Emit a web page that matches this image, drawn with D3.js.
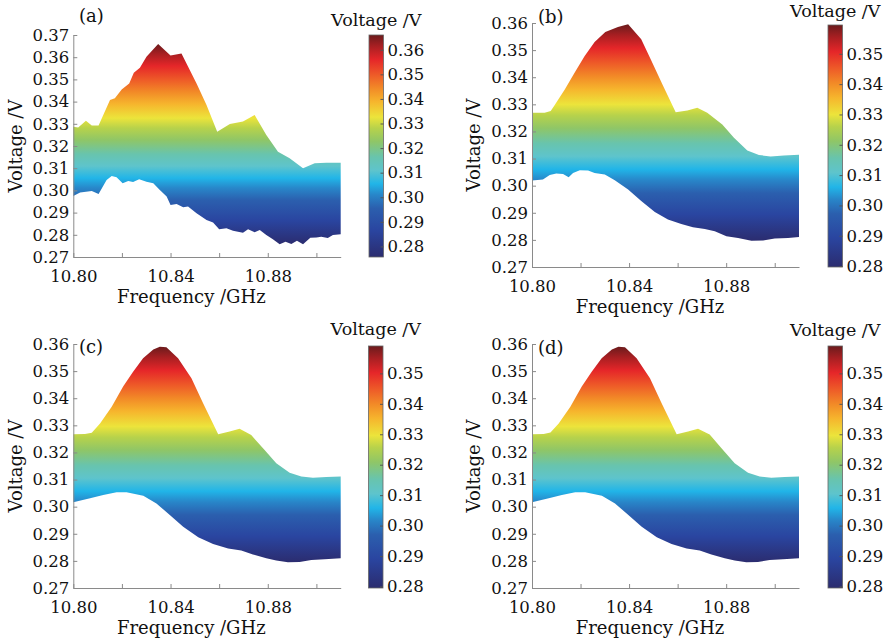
<!DOCTYPE html>
<html lang="en">
<head>
  <meta charset="UTF-8">
  <title>Voltage vs frequency</title>
  <style>
    body { margin: 0; background: #fff; }
    text { font-family: "DejaVu Serif", serif; fill: #111; }
  </style>
</head>
<body>
  <svg id="svg" width="887" height="643"></svg>
  <script src="https://d3js.org/d3.v7.min.js"></script>
  <script>
    // x axis (shared)
    const freqDomain = [10.80, 10.91]
    const freqTicks = [10.80, 10.82, 10.84, 10.86, 10.88, 10.90]
    const freqLabels = ['10.80', '10.84', '10.88']

    // y ticks
    const voltTicksA = [0.27, 0.28, 0.29, 0.30, 0.31, 0.32, 0.33, 0.34, 0.35, 0.36, 0.37]
    const voltTicksBCD = [0.27, 0.28, 0.29, 0.30, 0.31, 0.32, 0.33, 0.34, 0.35, 0.36]
    const barTicksA = [0.28, 0.29, 0.30, 0.31, 0.32, 0.33, 0.34, 0.35, 0.36]
    const barTicksBCD = [0.28, 0.29, 0.30, 0.31, 0.32, 0.33, 0.34, 0.35]

    // (a) raw measurement: [frequency GHz, voltage V]
    const aUpper = [
      [10.800, 0.3287], [10.802, 0.3283], [10.8052, 0.3314], [10.8076, 0.3292], [10.8104, 0.3292],
      [10.8151, 0.3407], [10.8171, 0.3415], [10.8199, 0.3455], [10.823, 0.3482], [10.8249, 0.3530],
      [10.8274, 0.3553], [10.8301, 0.3602], [10.8349, 0.3660], [10.840, 0.3608], [10.8445, 0.3617],
      [10.8507, 0.3482], [10.8548, 0.3385], [10.8592, 0.3264], [10.8644, 0.3299], [10.8698, 0.3310],
      [10.8746, 0.3340], [10.8794, 0.3250], [10.8842, 0.3174], [10.889, 0.3145], [10.8945, 0.3100],
      [10.8993, 0.3122], [10.9041, 0.3124], [10.910, 0.3124]
    ]
    const aLower = [
      [10.800, 0.2975], [10.8028, 0.2990], [10.8052, 0.2994], [10.8076, 0.2997], [10.8104, 0.2984],
      [10.8137, 0.3047], [10.8158, 0.3065], [10.8178, 0.3059], [10.8203, 0.3032], [10.8226, 0.3042],
      [10.8246, 0.3038], [10.8271, 0.3050], [10.8301, 0.3039], [10.8329, 0.3032], [10.8356, 0.3002],
      [10.8384, 0.2972], [10.840, 0.2934], [10.8425, 0.2939], [10.8452, 0.2924], [10.8472, 0.2927],
      [10.8507, 0.2897], [10.8548, 0.2867], [10.8575, 0.2855], [10.860, 0.2825], [10.863, 0.2829],
      [10.8657, 0.2818], [10.8698, 0.2809], [10.8719, 0.2825], [10.8746, 0.2811], [10.8767, 0.2822],
      [10.8794, 0.2799], [10.8821, 0.2780], [10.8849, 0.2757], [10.8873, 0.2769], [10.8897, 0.2759],
      [10.892, 0.2773], [10.8945, 0.2757], [10.8975, 0.2787], [10.900, 0.2788], [10.902, 0.2791],
      [10.9047, 0.2786], [10.9068, 0.2799], [10.910, 0.2802]
    ]

    // (b)
    const bUpper = [
      [10.800, 0.3269], [10.8052, 0.3269], [10.8077, 0.3275], [10.8093, 0.3297], [10.8135, 0.3355],
      [10.8176, 0.3417], [10.8217, 0.3478], [10.8258, 0.3530], [10.8302, 0.3567], [10.8354, 0.3585],
      [10.8396, 0.3595], [10.845, 0.3540], [10.8489, 0.3466], [10.8537, 0.3374], [10.8592, 0.3271],
      [10.864, 0.3277], [10.8681, 0.3287], [10.8722, 0.3269], [10.8784, 0.3226], [10.8832, 0.3177],
      [10.8887, 0.3130], [10.8935, 0.3113], [10.8983, 0.3108], [10.9038, 0.3111], [10.910, 0.3114]
    ]
    const bLower = [
      [10.800, 0.3019], [10.8045, 0.3023], [10.8073, 0.3039], [10.810, 0.3045], [10.8128, 0.3043],
      [10.8151, 0.3031], [10.8169, 0.3047], [10.8197, 0.3057], [10.8231, 0.3056], [10.8258, 0.3047],
      [10.830, 0.3041], [10.8341, 0.3020], [10.8396, 0.2986], [10.845, 0.2943], [10.8506, 0.2903],
      [10.856, 0.2875], [10.8615, 0.2859], [10.8663, 0.2847], [10.8712, 0.2840], [10.8753, 0.2832],
      [10.8801, 0.2813], [10.8849, 0.2807], [10.8904, 0.2797], [10.8952, 0.2798], [10.900, 0.2805],
      [10.9055, 0.2807], [10.910, 0.2811]
    ]

    // (c)
    const cUpper = [
      [10.800, 0.3267], [10.8048, 0.3268], [10.8076, 0.3273], [10.811, 0.3307], [10.8158, 0.3369],
      [10.8205, 0.3443], [10.8246, 0.3498], [10.8287, 0.3547], [10.8329, 0.3580], [10.8356, 0.3590],
      [10.8383, 0.3588], [10.8431, 0.3547], [10.8486, 0.3474], [10.8534, 0.3381], [10.8596, 0.3267],
      [10.8643, 0.3277], [10.8684, 0.3287], [10.8732, 0.3264], [10.8787, 0.3209], [10.8835, 0.3160],
      [10.889, 0.3125], [10.8938, 0.3111], [10.8986, 0.3107], [10.9041, 0.3109], [10.910, 0.3111]
    ]
    const cLower = [
      [10.800, 0.3016], [10.8069, 0.3031], [10.8123, 0.3043], [10.8178, 0.3053], [10.8219, 0.3053],
      [10.8288, 0.3040], [10.8342, 0.3012], [10.8397, 0.2969], [10.8452, 0.2926], [10.8514, 0.2887],
      [10.8575, 0.2862], [10.8637, 0.2846], [10.8691, 0.2838], [10.8739, 0.2824], [10.8794, 0.2810],
      [10.8835, 0.2801], [10.8883, 0.2795], [10.8931, 0.2796], [10.8979, 0.2803], [10.9034, 0.2806],
      [10.910, 0.2810]
    ]

    // (d)
    const dUpper = [
      [10.800, 0.3267], [10.8048, 0.3268], [10.8076, 0.3274], [10.811, 0.3307], [10.8158, 0.3369],
      [10.8205, 0.3443], [10.8246, 0.3498], [10.8287, 0.3547], [10.8329, 0.3580], [10.8356, 0.3590],
      [10.8383, 0.3588], [10.8431, 0.3547], [10.8486, 0.3474], [10.8534, 0.3381], [10.8596, 0.3267],
      [10.8643, 0.3277], [10.8684, 0.3287], [10.8732, 0.3266], [10.8787, 0.3209], [10.8835, 0.3160],
      [10.889, 0.3125], [10.8938, 0.3111], [10.8986, 0.3107], [10.9041, 0.3109], [10.910, 0.3111]
    ]
    const dLower = [
      [10.800, 0.3016], [10.8069, 0.3031], [10.8123, 0.3043], [10.8178, 0.3053], [10.8219, 0.3053],
      [10.8288, 0.3040], [10.8342, 0.3012], [10.8397, 0.2969], [10.8452, 0.2926], [10.8514, 0.2887],
      [10.8575, 0.2862], [10.8637, 0.2846], [10.8691, 0.2838], [10.8739, 0.2824], [10.8794, 0.2810],
      [10.8835, 0.2801], [10.8883, 0.2795], [10.8931, 0.2796], [10.8979, 0.2803], [10.9034, 0.2806],
      [10.910, 0.2810]
    ]

    // jet-like colormap as printed (offset along the colour range)
    const colorStops = [
      [0, '#2b2c6f'], [0.12, '#2a45a0'], [0.22, '#2b5fae'], [0.28, '#2886c9'], [0.33, '#21b5e8'],
      [0.39, '#5ec4cc'], [0.45, '#68c4ad'], [0.52, '#8fc667'], [0.58, '#b7d24b'], [0.63, '#ece43b'],
      [0.70, '#f6b52d'], [0.76, '#f28a27'], [0.82, '#ee5b28'], [0.89, '#e52629'], [0.95, '#a81f22'],
      [1, '#6b1b1c']
    ]

    const panels = [
      { id: 'a', name: '(a)', upper: aUpper, lower: aLower, yDomain: [0.27, 0.37], yTicks: voltTicksA, barTicks: barTicksA,
        left: 73.3, right: 340.7, top: 35, bottom: 257, cbX: 369, cbTop: 35, cbBottom: 257, titleY: 26, nameX: 79, nameY: 22 },
      { id: 'b', name: '(b)', upper: bUpper, lower: bLower, yDomain: [0.27, 0.36], yTicks: voltTicksBCD, barTicks: barTicksBCD,
        left: 532, right: 799, top: 23, bottom: 267, cbX: 828, cbTop: 25, cbBottom: 267, titleY: 17, nameX: 538, nameY: 23 },
      { id: 'c', name: '(c)', upper: cUpper, lower: cLower, yDomain: [0.27, 0.36], yTicks: voltTicksBCD, barTicks: barTicksBCD,
        left: 73.3, right: 340.7, top: 344, bottom: 588, cbX: 368.5, cbTop: 346, cbBottom: 588, titleY: 335, nameX: 79, nameY: 353 },
      { id: 'd', name: '(d)', upper: dUpper, lower: dLower, yDomain: [0.27, 0.36], yTicks: voltTicksBCD, barTicks: barTicksBCD,
        left: 532, right: 799, top: 344, bottom: 588, cbX: 828, cbTop: 346, cbBottom: 588, titleY: 336, nameX: 538, nameY: 354 }
    ]

    const svg = d3.select('#svg')
    const defs = svg.append('defs')
    const cbWidth = 14.5
    const axisColor = '#8a8a8a'

    panels.forEach(p => {
      const g = svg.append('g')
      const x = d3.scaleLinear().domain(freqDomain).range([p.left, p.right])
      const y = d3.scaleLinear().domain(p.yDomain).range([p.bottom, p.top])
      const ext = d3.extent(p.upper.concat(p.lower), d => d[1])

      // gradient for the band, fixed to voltage values
      const grad = defs.append('linearGradient')
        .attr('id', 'band-' + p.id)
        .attr('gradientUnits', 'userSpaceOnUse')
        .attr('x1', 0).attr('x2', 0)
        .attr('y1', y(ext[0])).attr('y2', y(ext[1]))
      grad.selectAll('stop').data(colorStops).enter().append('stop')
        .attr('offset', d => d[0]).attr('stop-color', d => d[1])

      const line = d3.line().x(d => x(d[0])).y(d => y(d[1]))
      const outline = p.upper.concat(p.lower.slice().reverse())
      g.append('path')
        .attr('d', line(outline) + 'Z')
        .attr('fill', 'url(#band-' + p.id + ')')

      // axes
      const yAxis = d3.axisLeft(y)
        .tickValues(p.yTicks)
        .tickFormat(d3.format('.2f'))
        .tickSizeInner(-4).tickSizeOuter(0).tickPadding(4)
      const ya = g.append('g').attr('transform', `translate(${p.left},0)`).call(yAxis)

      const xAxis = d3.axisBottom(x)
        .tickValues(freqTicks)
        .tickFormat(d => {
          const s = d3.format('.2f')(d)
          return freqLabels.includes(s) ? s : ''
        })
        .tickSizeInner(-4).tickSizeOuter(0).tickPadding(13)
      const xa = g.append('g').attr('transform', `translate(0,${p.bottom})`).call(xAxis)

      ;[ya, xa].forEach(a => {
        a.select('.domain').attr('stroke', axisColor)
        a.selectAll('.tick line').attr('stroke', axisColor)
        a.selectAll('text').attr('font-size', 16.5).attr('fill', '#111')
          .style('font-family', '"DejaVu Serif", serif')
      })

      g.append('text')
        .attr('x', p.left + 118).attr('y', p.bottom + 46)
        .attr('text-anchor', 'middle').attr('font-size', 18)
        .text('Frequency /GHz')

      g.append('text')
        .attr('transform', `translate(${p.left - 58},${(p.top + p.bottom) / 2}) rotate(-90)`)
        .attr('text-anchor', 'middle').attr('dy', '0.35em').attr('font-size', 18)
        .text('Voltage /V')

      g.append('text')
        .attr('x', p.nameX).attr('y', p.nameY)
        .attr('font-size', 18)
        .text(p.name)

      // colorbar
      const cgrad = defs.append('linearGradient')
        .attr('id', 'bar-' + p.id)
        .attr('x1', 0).attr('x2', 0).attr('y1', 1).attr('y2', 0)
      cgrad.selectAll('stop').data(colorStops).enter().append('stop')
        .attr('offset', d => d[0]).attr('stop-color', d => d[1])

      const cy = d3.scaleLinear().domain(ext).range([p.cbBottom, p.cbTop])
      g.append('rect')
        .attr('x', p.cbX).attr('y', p.cbTop)
        .attr('width', cbWidth).attr('height', p.cbBottom - p.cbTop)
        .attr('fill', 'url(#bar-' + p.id + ')')
        .attr('stroke', '#666').attr('stroke-width', 0.8)

      const cAxis = d3.axisRight(cy)
        .tickValues(p.barTicks)
        .tickFormat(d3.format('.2f'))
        .tickSizeInner(-3).tickSizeOuter(0).tickPadding(4)
      const ca = g.append('g').attr('transform', `translate(${p.cbX + cbWidth},0)`).call(cAxis)
      ca.select('.domain').remove()
      ca.selectAll('.tick line').attr('stroke', '#555')
      ca.selectAll('text').attr('font-size', 16.5).attr('fill', '#111')
        .style('font-family', '"DejaVu Serif", serif')

      g.append('text')
        .attr('x', p.cbX + cbWidth / 2).attr('y', p.titleY)
        .attr('text-anchor', 'middle').attr('font-size', 17.5)
        .text('Voltage /V')
    })
  </script>
</body>
</html>
